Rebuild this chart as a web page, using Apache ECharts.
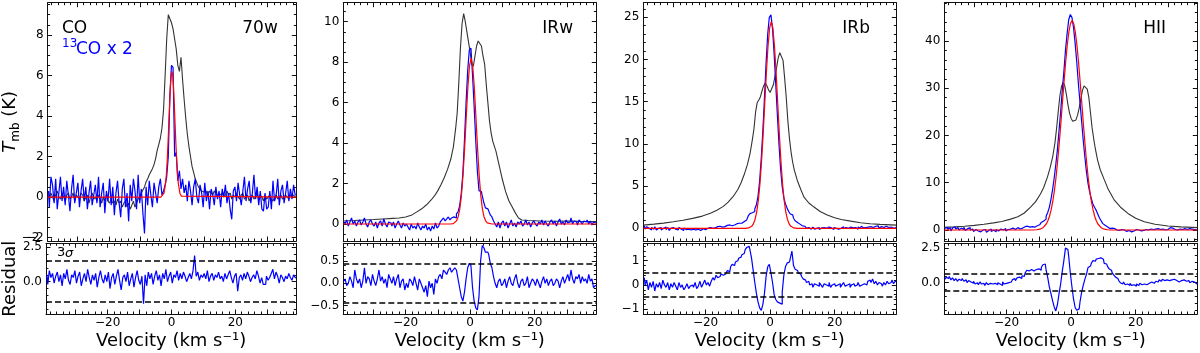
<!DOCTYPE html>
<html>
<head>
<meta charset="utf-8">
<script src="https://cdn.jsdelivr.net/npm/echarts@6/dist/echarts.min.js"></script>
<style>
html, body { margin: 0; padding: 0; background: #fff; }
#main { width: 1200px; height: 353px; }
</style>
</head>
<body>
<div id="main"></div>
<script>
// channel velocities (km/s) of the step spectra, -39 .. 39 every 0.5
var vel = [];
for (var i = 0; i <= 156; i++) vel.push(-39 + 0.5 * i);

// ---- 70w ----
var co70w = [
  0.1, -0.1, 0.2, 0.0, -0.2, 0.1, 0.3, 0.0, -0.1, 0.2,
  0.0, -0.2, 0.1, 0.2, -0.1, 0.0, 0.2, -0.2, 0.1, 0.0,
  -0.1, 0.2, 0.1, -0.2, 0.0, 0.1, -0.3, 0.0, 0.2, -0.1,
  0.0, -0.2, 0.1, -0.1, -0.3, 0.0, -0.2, 0.1, -0.2, -0.3,
  -0.1, -0.3, -0.2, -0.4, -0.1, -0.3, -0.2, -0.5, -0.3, -0.2,
  -0.5, -0.3, -0.6, -0.4, -0.2, -0.5, -0.3, -0.1, 0.0, 0.2,
  0.35, 0.5, 0.75, 0.9, 1.1, 1.25, 1.4, 1.6, 1.9, 2.3,
  2.6, 2.9, 3.4, 4.3, 6.0, 7.8, 9.0, 8.8, 8.6, 8.3,
  7.8, 7.3, 6.5, 6.2, 6.9, 5.8, 4.8, 3.9, 3.1, 2.5,
  2.0, 1.5, 1.2, 0.9, 0.7, 0.5, 0.4, 0.3, 0.25, 0.3,
  0.2, 0.1, 0.3, 0.2, 0.1, 0.3, 0.2, 0.0, 0.2, 0.1,
  0.2, 0.0, 0.1, 0.3, 0.1, 0.2, -0.1, 0.1, 0.0, 0.2,
  0.0, -0.1, 0.1, 0.2, -0.1, 0.0, 0.1, -0.2, 0.0, 0.1,
  -0.1, 0.0, 0.2, -0.1, 0.1, 0.0, -0.2, 0.1, -0.1, 0.0,
  0.1, -0.1, -0.2, 0.0, 0.1, -0.1, 0.0, 0.1, -0.1, 0.0,
  0.1, 0.0, -0.1, 0.1, 0.0, 0.1, 0.0
];
var c13_70w = [
  0.3, -0.5, 1.0, 0.6, -0.3, 0.9, -0.6, 0.2, 1.0, -0.2,
  0.5, -0.4, 0.8, 0.1, -0.7, 0.4, 1.1, -0.3, 0.2, 0.7,
  -0.5, 0.3, 0.9, -0.2, 0.5, -0.6, 0.2, 0.8, -0.4, 0.1,
  0.6, -0.3, 1.0, -0.5, 0.2, 0.7, -0.8, 0.3, -0.2, 0.9,
  -0.4, 0.5, -0.9, 0.2, 0.8, -0.3, -1.0, 0.4, 0.9, -0.5,
  0.2, -1.2, 0.6, -0.2, 0.9, 0.3, -0.6, 1.1, -0.3, 0.4,
  -0.8, -1.8, 0.5, -0.4, 0.8, 0.1, -0.5, 0.7, 0.2, -0.3,
  0.5, 0.9, 0.1, 0.3, 0.6, 1.0, 2.0, 5.0, 6.5, 6.4,
  2.0, 2.2, 0.8, 1.3, 0.4, 0.9, 0.2, 0.6, -0.2, 0.8,
  0.3, -0.4, 0.5, 0.9, 0.0, -0.3, 0.6, 0.2, -0.5, 0.7,
  -0.2, 0.3, -0.6, 0.4, 0.1, -0.4, 0.5, -0.1, 0.3, -0.5,
  0.4, 0.0, 0.6, -0.3, 0.2, -0.6, -1.1, 0.3, 0.5, -0.2,
  0.7, 0.1, -0.4, 0.3, 1.0, -0.2, 0.4, 0.8, -0.3, 0.2,
  1.1, -0.1, 0.5, -0.4, 0.3, -0.6, -0.7, 0.2, -0.6, -0.5,
  0.3, -0.6, 0.8, -0.2, 0.1, 0.9, -0.4, 0.3, 0.6, -0.3,
  0.2, 0.8, -0.2, 0.4, -0.1, 0.6, 0.1
];
var fit70w = [[-39.3, 0], [-3.6, 0], [-3.1, 0.04], [-2.6, 0.19], [-2.1, 0.68], [-1.85, 1.14], [-1.6, 1.78],
  [-1.35, 2.61], [-1.1, 3.56], [-0.85, 4.54], [-0.6, 5.4], [-0.35, 5.99], [-0.1, 6.2], [0.15, 5.99],
  [0.4, 5.4], [0.65, 4.54], [0.9, 3.56], [1.15, 2.61], [1.4, 1.78], [1.65, 1.14], [1.9, 0.68],
  [2.4, 0.19], [2.9, 0.04], [3.4, 0], [39.1, 0]];
var res70w = [
  0.5, -0.2, 0.8, 0.3, 0.6, -0.1, 0.4, 0.7, 0.0, 0.5,
  -0.3, 0.6, 0.2, 0.9, 0.1, -0.2, 0.5, 0.3, 0.8, -0.1,
  0.4, 0.7, -0.3, 0.2, 0.6, 0.0, 0.9, 0.3, -0.2, 0.5,
  0.1, 0.6, -0.4, 0.3, 0.8, 0.2, -0.1, 0.5, 0.0, 0.7,
  -0.5, 0.3, 0.6, -0.2, 0.4, 0.9, 0.1, -0.6, 0.3, 0.5,
  0.0, 0.7, -0.3, 0.2, 0.6, -0.4, 0.3, 0.8, 0.1, -0.2,
  0.4, -1.6, 0.5, -0.3, 0.7, 0.2, 0.6, -0.2, 0.4, 0.8,
  0.1, 0.5, -0.3, 0.6, 0.2, 0.9, 0.0, 0.4, 0.7, -0.1,
  0.5, 0.3, 0.8, 0.1, 0.6, 0.2, 0.7, 0.4, 0.0, 0.3,
  0.6, 0.2, 0.8, 1.9, 0.4, 0.7, 0.1, 0.5, 0.3, 0.6,
  0.2, 0.8, 0.0, 0.4, 0.6, 0.1, 0.5, 0.3, 0.7, 0.2,
  0.4, 0.0, 0.6, 0.2, 0.5, 0.8, 0.3, -0.1, 0.4, 0.6,
  -0.7, 0.3, 0.5, 0.1, 0.6, 0.2, 0.7, 0.4, 0.0, 0.3,
  0.5, 0.2, 0.8, 0.4, -0.1, 0.3, -0.2, -0.2, 0.4, 0.1,
  0.3, 0.6, 0.9, 0.2, 0.7, 0.4, -0.1, 0.5, 0.3, 0.0,
  0.4, 0.2, 0.6, 0.3, 0.1, 0.5, 0.3
];

// ---- IRw ----
var coIRw = [[-39.3, 0.15], [-36, 0.17], [-33, 0.2], [-30, 0.22], [-27, 0.25], [-24, 0.28], [-22, 0.3],
  [-20, 0.35], [-18, 0.45], [-16.5, 0.6], [-15, 0.75], [-13.5, 0.95], [-12, 1.2], [-11, 1.4], [-10, 1.65],
  [-9, 1.95], [-8, 2.3], [-7, 2.7], [-6, 3.2], [-5.2, 3.8], [-4.5, 4.7], [-4, 5.5], [-3.5, 7.0], [-3, 8.7],
  [-2.5, 9.9], [-2, 10.4], [-1.5, 10.0], [-1, 9.5], [-0.5, 9.0], [0, 8.5], [0.5, 7.9], [1, 7.8], [1.5, 8.3],
  [2, 8.8], [2.5, 9.05], [3, 9.1], [3.5, 8.8], [4, 8.3], [4.5, 7.9], [5, 6.9], [5.5, 6.0], [6, 5.1],
  [6.5, 4.5], [7, 4.1], [8, 3.6], [9, 2.9], [10, 2.2], [11, 1.6], [12, 1.15], [13, 0.85], [14, 0.55],
  [15, 0.3], [16, 0.2], [18, 0.17], [22, 0.15], [26, 0.14], [30, 0.15], [34, 0.13], [39.1, 0.12]];
var c13IRw = [
  0.1, 0.0, 0.2, -0.1, 0.1, 0.3, 0.0, 0.15, -0.1, 0.1,
  0.2, -0.05, 0.1, 0.3, 0.0, -0.15, 0.1, 0.2, 0.0, -0.1,
  0.1, -0.2, 0.05, 0.15, -0.1, 0.25, 0.0, -0.15, 0.1, 0.05,
  -0.1, 0.1, -0.2, 0.0, 0.15, -0.05, -0.2, 0.05, -0.1, 0.0,
  -0.15, -0.3, 0.0, -0.2, -0.1, -0.25, 0.05, -0.15, -0.3, -0.1,
  -0.2, 0.0, -0.3, -0.15, -0.35, -0.1, -0.25, 0.05, -0.2, -0.1,
  0.1, 0.2, 0.3, 0.15, 0.25, 0.35, 0.2, 0.3, 0.35, 0.3,
  0.5, 0.6, 0.9, 1.5, 2.5, 4.15, 6.0, 7.6, 8.6, 8.7,
  7.35, 5.8, 4.1, 2.6, 1.65, 1.6, 1.4, 1.05, 0.8, 0.75,
  0.65, 0.45, 0.35, 0.15, 0.0, -0.15, 0.1, -0.2, 0.05, 0.15,
  -0.1, 0.1, -0.2, 0.0, 0.2, -0.1, 0.05, -0.15, 0.1, 0.0,
  0.15, -0.1, 0.0, 0.2, -0.05, 0.1, -0.15, 0.05, 0.15, 0.0,
  -0.1, 0.1, 0.0, 0.2, -0.05, 0.15, 0.0, -0.1, 0.1, 0.2,
  0.0, 0.15, -0.1, 0.1, 0.25, 0.0, 0.1, -0.05, 0.2, 0.05,
  0.1, 0.3, 0.0, 0.15, 0.1, -0.05, 0.2, 0.1, 0.0, 0.15,
  0.1, 0.2, 0.0, 0.15, -0.05, 0.1, 0.05
];
var fitIRw = [[-39.3, 0], [-6.2, 0], [-5.2, 0.02], [-4.7, 0.06], [-4.2, 0.16], [-3.7, 0.36], [-3.2, 0.75],
  [-2.7, 1.41], [-2.2, 2.42], [-1.7, 3.75], [-1.2, 5.29], [-0.7, 6.75], [-0.2, 7.81], [0.3, 8.2],
  [0.8, 7.81], [1.3, 6.75], [1.8, 5.29], [2.3, 3.75], [2.8, 2.42], [3.3, 1.41], [3.8, 0.75], [4.3, 0.36],
  [4.8, 0.16], [5.3, 0.06], [5.8, 0.02], [6.8, 0], [39.1, 0]];
var resIRw = [
  0.05, 0.1, -0.05, 0.0, 0.15, 0.05, -0.1, 0.3, 0.1, 0.0,
  0.1, -0.1, 0.05, 0.35, 0.0, 0.15, 0.1, -0.05, 0.2, 0.05,
  -0.05, 0.1, 0.3, 0.05, 0.15, 0.0, 0.1, -0.1, 0.2, 0.1,
  0.0, 0.15, -0.05, 0.1, 0.2, -0.1, 0.05, 0.1, -0.15, 0.0,
  -0.1, 0.1, 0.05, -0.05, 0.15, 0.0, -0.15, 0.1, 0.0, -0.1,
  -0.2, -0.05, -0.3, 0.05, -0.1, 0.0, -0.25, 0.1, 0.0, 0.15,
  0.2, 0.1, 0.3, 0.25, 0.2, 0.3, 0.35, 0.25, 0.3, 0.35,
  0.3, 0.1, -0.1, -0.3, -0.4, -0.2, 0.1, 0.35, 0.45, 0.4,
  -0.1, -0.4, -0.55, -0.6, -0.3, 0.5, 0.85, 0.8, 0.7, 0.7,
  0.65, 0.45, 0.35, 0.15, 0.0, -0.1, 0.05, 0.1, -0.05, 0.0,
  0.1, -0.1, 0.05, 0.15, 0.0, -0.05, 0.1, 0.2, 0.0, -0.1,
  0.05, 0.1, -0.05, 0.0, 0.15, -0.1, 0.0, 0.1, 0.05, -0.05,
  0.1, 0.0, -0.1, 0.05, 0.15, 0.0, 0.1, -0.05, 0.05, 0.1,
  -0.05, 0.0, 0.1, 0.05, -0.1, 0.05, 0.15, 0.0, 0.1, 0.2,
  0.05, 0.3, 0.1, 0.0, 0.15, 0.1, 0.2, 0.0, 0.15, 0.05,
  0.1, 0.0, 0.2, 0.05, 0.1, -0.1, -0.05
];

// ---- IRb ----
var coIRb = [[-39.3, 0.38], [-36, 0.5], [-33, 0.62], [-30, 0.78], [-27, 0.95], [-24, 1.18], [-21, 1.45],
  [-18.5, 1.8], [-16.5, 2.15], [-14.5, 2.6], [-13, 3.1], [-11.5, 3.75], [-10, 4.6], [-9, 5.4], [-8, 6.4],
  [-7, 7.6], [-6.2, 8.9], [-5.5, 10.5], [-5, 11.8], [-4.5, 13.8], [-4, 14.9], [-3.5, 15.2], [-3, 15.6],
  [-2.5, 16.3], [-2, 16.9], [-1.5, 17.2], [-1, 16.9], [-0.5, 16.4], [0, 16.1], [0.5, 16.3], [1, 17.0],
  [1.5, 18.0], [2, 19.0], [2.5, 20.2], [3, 20.8], [3.5, 20.7], [4, 19.9], [4.5, 17.8], [5, 15.5],
  [5.5, 12.7], [6, 10.6], [6.5, 9.0], [7, 7.8], [7.5, 6.9], [8.4, 5.7], [9.5, 4.6], [10.5, 3.7],
  [12, 3.0], [13.5, 2.55], [15.5, 2.0], [17.7, 1.58], [20, 1.25], [22, 1.05], [25, 0.85], [28, 0.67],
  [31, 0.55], [34, 0.47], [39.1, 0.38]];
var c13IRb = [
  0.3, -0.1, 0.2, 0.0, -0.2, 0.1, -0.1, 0.2, -0.2, 0.0,
  0.1, -0.2, 0.0, 0.15, -0.15, 0.1, -0.25, 0.0, 0.1, -0.1,
  0.0, -0.2, 0.1, -0.1, -0.25, 0.05, -0.15, -0.1, 0.1, -0.2,
  -0.1, 0.05, -0.2, -0.1, 0.0, -0.25, -0.05, 0.1, -0.15, 0.0,
  -0.1, 0.1, 0.0, 0.15, 0.05, 0.2, 0.1, 0.25, 0.15, 0.3,
  0.2, 0.35, 0.25, 0.4, 0.3, 0.45, 0.4, 0.55, 0.45, 0.6,
  0.6, 0.75, 0.8, 1.0, 1.2, 1.5, 1.75, 1.85, 2.0, 2.3,
  2.8, 3.8, 5.6, 8.3, 11.6, 15.5, 19.6, 23.0, 25.0, 25.3,
  23.6, 20.6, 17.0, 13.4, 9.9, 7.0, 4.9, 3.6, 2.9, 2.4,
  2.0, 1.7, 1.6, 1.2, 0.9, 0.7, 0.5, 0.4, 0.3, 0.25,
  0.2, 0.0, 0.1, -0.1, 0.05, 0.15, -0.1, 0.0, 0.1, -0.15,
  0.05, 0.1, -0.1, 0.0, 0.15, -0.05, 0.05, -0.15, 0.1, 0.0,
  -0.1, 0.1, 0.0, 0.2, -0.05, 0.1, 0.0, -0.1, 0.15, 0.05,
  0.0, 0.1, -0.1, 0.15, 0.0, 0.25, 0.05, 0.1, 0.3, 0.15,
  0.2, 0.35, 0.1, 0.25, 0.15, 0.3, 0.05, 0.2, 0.1, 0.15,
  0.25, 0.1, 0.3, 0.15, 0.0, 0.2, 0.1
];
var fitIRb = [[-39.3, 0], [-7.65, 0], [-6.65, 0.05], [-5.65, 0.27], [-5.15, 0.56], [-4.65, 1.08],
  [-4.15, 1.96], [-3.65, 3.31], [-3.15, 5.29], [-2.65, 7.96], [-2.15, 11.22], [-1.65, 14.87],
  [-1.15, 18.5], [-0.65, 21.6], [-0.15, 23.74], [0.35, 24.5], [0.85, 23.74], [1.35, 21.6], [1.85, 18.5],
  [2.35, 14.87], [2.85, 11.22], [3.35, 7.96], [3.85, 5.29], [4.35, 3.31], [4.85, 1.96], [5.35, 1.08],
  [5.85, 0.56], [6.35, 0.27], [7.35, 0.05], [8.35, 0], [39.1, 0]];
var resIRb = [
  0.3, 0.0, 0.2, -0.2, 0.1, -0.1, 0.15, -0.25, 0.05, -0.1,
  0.1, -0.15, 0.2, 0.0, -0.1, 0.1, -0.2, 0.05, -0.1, 0.1,
  -0.05, -0.2, 0.1, -0.1, 0.0, -0.2, -0.1, 0.05, -0.15, -0.05,
  0.0, -0.1, 0.1, -0.15, -0.05, 0.15, -0.1, 0.05, 0.2, 0.0,
  0.1, -0.05, 0.15, 0.3, 0.2, 0.4, 0.3, 0.35, 0.45, 0.4,
  0.45, 0.5, 0.6, 0.55, 0.75, 0.85, 0.8, 0.95, 1.0, 1.1,
  1.15, 1.25, 1.3, 1.45, 1.55, 1.6, 1.45, 1.1, 0.6, 0.1,
  -0.35, -0.7, -0.95, -1.05, -0.8, -0.35, 0.35, 0.75, 0.85, 0.5,
  0.1, -0.4, -0.6, -0.7, -0.75, -0.8, -0.3, 0.4, 0.75, 0.9,
  0.95, 1.1, 1.4, 0.8, 0.65, 0.6, 0.5, 0.45, 0.35, 0.25,
  0.2, 0.1, 0.15, 0.0, 0.05, -0.1, 0.05, 0.0, -0.05, 0.1,
  0.0, -0.1, 0.05, 0.0, -0.05, 0.1, -0.1, 0.0, 0.05, -0.05,
  0.0, 0.05, -0.1, 0.0, 0.1, -0.05, 0.0, 0.05, -0.1, 0.0,
  0.05, -0.05, 0.0, 0.1, -0.05, 0.0, 0.05, 0.1, 0.0, 0.15,
  0.2, 0.1, 0.25, 0.05, 0.15, 0.0, 0.1, 0.05, -0.05, 0.1,
  0.0, 0.15, 0.05, 0.1, 0.2, 0.05, 0.15
];

// ---- HII ----
var coHII = [[-39.3, 0.55], [-36, 0.65], [-33, 0.8], [-30, 0.98], [-27, 1.2], [-24, 1.5], [-21.5, 1.8],
  [-19, 2.25], [-16.5, 2.8], [-14.5, 3.6], [-12.5, 4.9], [-11, 6.0], [-9.5, 7.6], [-8.5, 9.0],
  [-7.3, 11.3], [-6.5, 13.2], [-5.7, 15.5], [-5, 18.5], [-4.5, 21.5], [-4, 25.0], [-3.5, 28.3],
  [-3, 30.3], [-2.5, 31.2], [-2, 30.6], [-1.5, 28.8], [-1, 26.6], [-0.5, 24.8], [0, 23.6], [0.5, 23.0],
  [1, 22.9], [1.5, 23.3], [2, 24.3], [2.5, 25.8], [3, 27.7], [3.5, 29.5], [4, 30.5], [4.5, 30.7],
  [5, 29.8], [5.5, 28.0], [6, 24.8], [6.5, 21.6], [7, 19.3], [7.5, 17.2], [8.2, 14.8], [9, 12.8],
  [10.3, 10.6], [11.5, 8.6], [13.4, 6.3], [15.5, 4.7], [17.6, 3.5], [20, 2.5], [22.7, 1.76], [26, 1.2],
  [30, 0.85], [34, 0.65], [39.1, 0.5]];
var c13HII = [
  0.3, 0.6, 0.1, 0.5, -0.2, 0.4, 0.7, 0.2, 0.5, 0.0,
  0.4, 0.1, 0.6, -0.1, 0.3, 0.5, 0.0, 0.2, -0.3, 0.1,
  -0.2, 0.2, -0.4, 0.0, -0.3, 0.1, -0.5, -0.1, 0.2, -0.3,
  0.0, -0.4, 0.1, -0.2, 0.2, -0.1, 0.0, 0.3, -0.2, 0.1,
  0.2, 0.0, 0.4, 0.1, 0.3, 0.5, 0.2, 0.6, 0.4, 0.7,
  0.5, 0.8, 0.6, 0.9, 0.7, 0.6, 0.7, 0.9, 1.1, 1.3,
  1.6, 1.9, 2.3, 2.9, 3.7, 4.8, 6.5, 8.5, 11.0, 13.8,
  17.0, 21.0, 25.0, 29.5, 33.5, 38.0, 41.5, 44.5, 45.6, 45.0,
  42.8, 39.5, 35.5, 31.0, 27.0, 23.0, 19.0, 15.5, 12.3, 9.8,
  8.0, 6.6, 5.5, 4.8, 4.2, 3.4, 2.6, 2.0, 1.4, 1.0,
  0.7, 0.5, 0.3, 0.4, 0.1, 0.3, 0.0, 0.2, -0.1, 0.1,
  -0.2, 0.0, -0.3, 0.1, -0.1, -0.4, 0.0, -0.2, 0.1, -0.3,
  0.0, -0.2, 0.2, -0.1, 0.1, -0.3, 0.0, 0.2, -0.1, 0.1,
  0.2, 0.0, 0.3, 0.1, 0.4, 0.2, 0.0, 0.3, 0.1, 0.5,
  0.2, 0.4, 0.1, 0.3, 0.0, 0.2, 0.4, 0.1, 0.3, 0.2,
  0.1, 0.3, 0.0, 0.2, 0.1, -0.1, 0.0
];
var fitHII = [[-39.3, 0], [-11.7, 0], [-10.7, 0.05], [-9.7, 0.17], [-8.7, 0.49], [-7.7, 1.27], [-7.2, 1.95],
  [-6.7, 2.91], [-6.2, 4.24], [-5.7, 5.98], [-5.2, 8.24], [-4.7, 11.0], [-4.2, 14.4], [-3.7, 18.2],
  [-3.2, 22.4], [-2.7, 26.9], [-2.2, 31.3], [-1.7, 35.5], [-1.2, 39.1], [-0.7, 41.9], [-0.2, 43.7],
  [0.3, 44.3], [0.8, 43.7], [1.3, 41.9], [1.8, 39.1], [2.3, 35.5], [2.8, 31.3], [3.3, 26.9], [3.8, 22.4],
  [4.3, 18.2], [4.8, 14.4], [5.3, 11.0], [5.8, 8.24], [6.3, 5.98], [6.8, 4.24], [7.3, 2.91], [7.8, 1.95],
  [8.3, 1.27], [9.3, 0.49], [10.3, 0.17], [11.3, 0.05], [12.3, 0], [39.1, 0]];
var resHII = [
  0.25, 0.4, 0.3, 0.45, 0.2, 0.35, 0.15, 0.3, 0.1, 0.25,
  0.15, 0.3, 0.1, 0.2, 0.0, 0.15, 0.05, -0.05, 0.1, -0.1,
  0.0, -0.15, 0.05, -0.1, -0.05, -0.2, 0.0, -0.15, -0.05, -0.1,
  -0.2, -0.05, -0.15, 0.0, -0.1, -0.2, 0.05, -0.1, -0.05, 0.0,
  0.1, 0.05, 0.2, 0.3, 0.15, 0.35, 0.4, 0.3, 0.5, 0.45,
  0.7, 0.9, 0.85, 0.95, 0.9, 0.85, 0.95, 0.9, 1.0, 0.9,
  1.1, 1.3, 1.35, 0.9, 0.36, -0.3, -0.8, -1.3, -1.76, -2.05,
  -1.6, -0.8, -0.1, 0.8, 1.6, 2.5, 2.4, 1.9, 0.7, -0.3,
  -1.2, -1.8, -2.0, -1.9, -1.4, -0.7, -0.2, 0.24, 0.6, 1.1,
  1.2, 1.4, 1.6, 1.55, 1.7, 1.75, 1.8, 1.86, 1.7, 1.4,
  1.35, 1.2, 1.0, 0.9, 0.7, 0.55, 0.4, 0.3, 0.15, 0.0,
  -0.1, 0.05, -0.15, -0.1, -0.2, -0.05, -0.2, -0.15, -0.25, -0.1,
  -0.2, -0.05, -0.15, -0.1, 0.0, -0.15, -0.05, -0.1, 0.05, -0.05,
  0.0, 0.1, 0.05, 0.2, 0.1, 0.25, 0.15, 0.2, 0.3, 0.15,
  0.2, 0.1, 0.25, 0.15, 0.2, 0.05, 0.15, 0.1, 0.2, 0.1,
  0.05, 0.15, 0.0, 0.1, 0.05, -0.05, -0.1
];

// panel labels, axis ranges, ticks
var panelNames = ['70w', 'IRw', 'IRb', 'HII'];
var velRange = [-39.3, 39.1];
var velTicks = [-30, -20, -10, 0, 10, 20, 30];
var velLabels = [-20, 0, 20];
var mainRange = [[-2.17, 9.59], [-0.84, 10.94], [-1.5, 26.73], [-2.33, 48.1]];
var mainTicks = [[-2, 0, 2, 4, 6, 8], [0, 2, 4, 6, 8, 10], [0, 5, 10, 15, 20, 25], [0, 10, 20, 30, 40]];
var mainMinor = [0.5, 0.5, 1, 2];
var resRange = [[-2.35, 2.79], [-0.69, 0.9], [-1.2, 1.72], [-2.27, 2.85]];
var resTicks = [[0, 2.5], [-0.5, 0, 0.5], [-1, 0, 1], [0, 2.5]];
var resMinor = [0.5, 0.1, 0.2, 0.5];
var resDecimals = [1, 1, 0, 1];
var threeSigma = [[1.55, -1.45], [0.43, -0.43], [0.49, -0.49], [0.61, -0.6]];

var spectra = [
  { co: co70w.map(function (t, i) { return [vel[i], t]; }), coStep: true, c13: c13_70w, fit: fit70w, res: res70w },
  { co: coIRw, coStep: false, c13: c13IRw, fit: fitIRw, res: resIRw },
  { co: coIRb, coStep: false, c13: c13IRb, fit: fitIRb, res: resIRb },
  { co: coHII, coStep: false, c13: c13HII, fit: fitHII, res: resHII }
];

var FONT = 'DejaVu Sans';
var gridLeft = [43.3, 343.3, 643.3, 944.3];
var W = 253;

function onGrid(vals) { return vals.map(function (t, i) { return [vel[i], t]; }); }

function steps(lo, hi, st) {
  var out = [];
  for (var k = Math.ceil(lo / st - 1e-9); k * st <= hi + 1e-9; k++) out.push(+(k * st).toFixed(3));
  return out;
}

function fmtTick(dec) {
  return function (v) {
    var s = dec == null ? String(+(+v).toFixed(3)) : (+v).toFixed(dec);
    return s.replace('-', '\u2212');
  };
}

var grids = [], xAxes = [], yAxes = [], series = [], graphics = [];

// four axes per side pair: main line+major ticks, minor ticks, mirrored on the opposite side
function addAxes(list, dim, g, range, major, minor, labels, fmt) {
  var sides = dim === 'x' ? ['bottom', 'top'] : ['left', 'right'];
  var first = list.length;
  sides.forEach(function (pos, k) {
    [major, minor].forEach(function (ticks, m) {
      var withLabels = k === 0 && m === 0 && labels;
      list.push({
        type: 'value', gridIndex: g, position: pos,
        min: range[0], max: range[1],
        splitLine: { show: false },
        axisLine: { show: m === 0, onZero: false, lineStyle: { color: '#111', width: 1 } },
        axisTick: { show: true, inside: true, length: m === 0 ? 4.5 : 2.5, customValues: ticks,
          lineStyle: { color: '#111', width: 1 } },
        axisLabel: withLabels ? { show: true, customValues: labels, formatter: fmt, color: '#000',
          fontSize: 12, fontFamily: FONT, margin: dim === 'x' ? 3 : 4 } : { show: false }
      });
    });
  });
  return first;
}

function lineSeries(xi, yi, data, color, step, width) {
  return {
    type: 'line', xAxisIndex: xi, yAxisIndex: yi, data: data,
    step: step ? 'middle' : false, showSymbol: false, symbol: 'none', silent: true,
    lineStyle: { color: color, width: width || 1 }, itemStyle: { color: color }, animation: false
  };
}

var velMinor = steps(velRange[0], velRange[1], 2);

for (var p = 0; p < 4; p++) {
  grids.push({ left: gridLeft[p], top: 2.7, width: W, height: 238.3 });
  var gm = grids.length - 1;
  grids.push({ left: gridLeft[p], top: 243.3, width: W, height: 70.7 });
  var gr = grids.length - 1;

  var xm = addAxes(xAxes, 'x', gm, velRange, velTicks, velMinor, null, null);
  var ym = addAxes(yAxes, 'y', gm, mainRange[p], mainTicks[p],
    steps(mainRange[p][0], mainRange[p][1], mainMinor[p]), mainTicks[p], fmtTick(null));
  var xr = addAxes(xAxes, 'x', gr, velRange, velTicks, velMinor, velLabels, fmtTick(null));
  var yr = addAxes(yAxes, 'y', gr, resRange[p], resTicks[p],
    steps(resRange[p][0], resRange[p][1], resMinor[p]), resTicks[p], fmtTick(resDecimals[p]));

  xAxes[xr].name = 'Velocity (km s\u207B\u00B9)';
  xAxes[xr].nameLocation = 'middle';
  xAxes[xr].nameGap = 18;
  xAxes[xr].nameTextStyle = { fontSize: 18, fontFamily: FONT, color: '#000' };

  if (p === 0) {
    yAxes[ym].name = '{t|T}{s|mb}{n| (K)}';
    yAxes[ym].nameLocation = 'middle';
    yAxes[ym].nameRotate = 90;
    yAxes[ym].nameGap = 24;
    yAxes[ym].nameTextStyle = { fontFamily: FONT, color: '#000', rich: {
      t: { fontSize: 18, fontStyle: 'italic', fontFamily: FONT, lineHeight: 24, verticalAlign: 'middle', color: '#000' },
      s: { fontSize: 12, fontFamily: FONT, lineHeight: 12, verticalAlign: 'bottom', color: '#000' },
      n: { fontSize: 18, fontFamily: FONT, lineHeight: 24, verticalAlign: 'middle', color: '#000' } } };
    yAxes[yr].name = 'Residual';
    yAxes[yr].nameLocation = 'middle';
    yAxes[yr].nameRotate = 90;
    yAxes[yr].nameGap = 25;
    yAxes[yr].nameTextStyle = { fontSize: 18, fontFamily: FONT, color: '#000' };
  }

  var s = spectra[p];
  series.push(lineSeries(xm, ym, s.co, '#333333', s.coStep, 1.1));
  series.push(lineSeries(xm, ym, onGrid(s.c13), '#0000ff', true, 1.2));
  series.push(lineSeries(xm, ym, s.fit, '#ff0000', false, 1.2));
  var rs = lineSeries(xr, yr, onGrid(s.res), '#0000ff', true, 1.2);
  rs.markLine = {
    silent: true, symbol: 'none', animation: false, label: { show: false },
    lineStyle: { color: '#000', type: [6, 3], width: 1.5 },
    data: [{ yAxis: threeSigma[p][0] }, { yAxis: threeSigma[p][1] }]
  };
  series.push(rs);

  graphics.push({ type: 'text', x: gridLeft[p] + 199, y: 29,
    style: { text: panelNames[p], font: '17px ' + FONT, fill: '#000', verticalAlign: 'middle' } });
}

// the -2 label of the first panel sits right on the frame edge
graphics.push({ type: 'text', x: 39.3, y: 237.5, style: { text: '\u22122', font: '12px ' + FONT, fill: '#000', align: 'right', verticalAlign: 'middle' } });
graphics.push({ type: 'text', x: 62, y: 29, style: { text: 'CO', font: '17px ' + FONT, fill: '#000', verticalAlign: 'middle' } });
graphics.push({ type: 'text', x: 62, y: 44, style: { text: '13', font: '12px ' + FONT, fill: '#0000ff', verticalAlign: 'middle' } });
graphics.push({ type: 'text', x: 76, y: 50, style: { text: 'CO x 2', font: '17px ' + FONT, fill: '#0000ff', verticalAlign: 'middle' } });
graphics.push({ type: 'text', x: 57, y: 253, style: { text: '3', font: '13px ' + FONT, fill: '#000', verticalAlign: 'middle' } });
graphics.push({ type: 'text', x: 65, y: 254, style: { text: '\u03C3', font: 'italic 13px ' + FONT, fill: '#000', verticalAlign: 'middle' } });

var chart = echarts.init(document.getElementById('main'));
chart.setOption({
  animation: false,
  backgroundColor: '#fff',
  textStyle: { fontFamily: FONT },
  grid: grids,
  xAxis: xAxes,
  yAxis: yAxes,
  series: series,
  graphic: graphics
});
</script>
</body>
</html>
